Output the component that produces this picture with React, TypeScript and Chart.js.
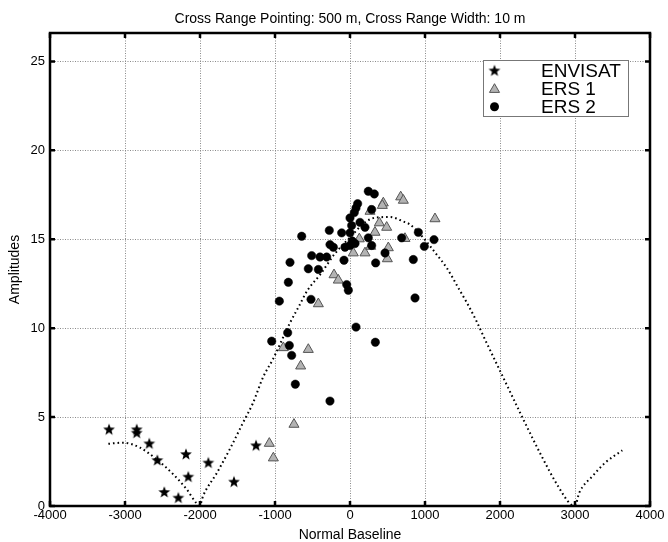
import React, { useEffect, useRef } from "react";
import { Chart, registerables } from "chart.js";

Chart.register(...registerables);

const titleText = "Cross Range Pointing: 500 m, Cross Range Width: 10 m";
const xAxisTitle = "Normal Baseline";
const yAxisTitle = "Amplitudes";
const xTicks = [-4000, -3000, -2000, -1000, 0, 1000, 2000, 3000, 4000];
const yTicks = [0, 5, 10, 15, 20, 25];
const legendLabels = ["ENVISAT", "ERS 1", "ERS 2"];

const envisatX = [-3213, -2844, -2844, -2676, -2569, -2187, -1889, -2156, -2476, -2289, -1547, -1253];
const envisatY = [4.31, 4.31, 4.12, 3.52, 2.58, 2.92, 2.44, 1.65, 0.79, 0.47, 1.37, 3.41];

const ers1X = [-1076, -1022, -747, -889, -556, -658, -422, -213, -156, 44, 200, 124, 276, 333, 267, 391, 489, 511, 498, 444, 431, 676, 711, 733, 1133];
const ers1Y = [3.52, 2.7, 4.59, 8.9, 8.8, 7.87, 11.37, 13.0, 12.7, 14.23, 14.23, 15.02, 14.6, 15.39, 16.57, 15.92, 15.67, 14.52, 13.9, 17.04, 16.9, 17.38, 17.19, 15.04, 16.15];

const ers2X = [244, 324, 102, 80, 57, 289, 0, 133, 22, 200, -276, -644, -111, 0, 244, 689, 911, 1120, 991, -267, -222, -67, 0, 67, 289, -511, -400, -311, -80, 467, 844, 342, -800, -556, -422, -822, -44, -22, -942, -520, 867, 80, -831, -1044, -809, -778, 338, -729, -267, 30];
const ers2Y = [17.7, 17.55, 17.0, 16.76, 16.5, 16.67, 16.2, 15.95, 15.77, 15.67, 15.5, 15.17, 15.36, 15.36, 15.08, 15.08, 15.39, 14.98, 14.6, 14.7, 14.55, 14.55, 14.65, 14.76, 14.65, 14.08, 14.0, 14.0, 13.82, 14.23, 13.86, 13.67, 13.7, 13.34, 13.3, 12.58, 12.45, 12.13, 11.52, 11.62, 11.7, 10.06, 9.74, 9.27, 9.03, 8.47, 9.21, 6.85, 5.9, 14.9];

const curveX = [-3222, -3022, -2800, -2578, -2356, -2178, -2053, -2005, -1956, -1778, -1600, -1422, -1298, -1156, -1022, -911, -800, -676, -569, -400, -200, 0, 200, 356, 533, 711, 800, 978, 1156, 1289, 1444, 1564, 1680, 1787, 2013, 2311, 2543, 2773, 2943, 3000, 3057, 3236, 3404, 3631];
const curveY = [3.5, 3.56, 3.28, 2.62, 1.78, 0.94, 0.19, 0.02, 0.6, 1.84, 3.22, 4.72, 5.75, 7.27, 8.3, 9.31, 10.3, 11.27, 12.12, 13.0, 14.2, 15.1, 15.95, 16.23, 16.25, 16.0, 15.83, 15.08, 14.14, 13.4, 12.27, 11.39, 10.45, 9.48, 7.49, 4.87, 2.9, 1.12, 0.1, 0.02, 0.75, 1.69, 2.44, 3.13];

const FONT = '"Liberation Sans", Arial, Helvetica, sans-serif';

function makeStar(): HTMLCanvasElement {
  const c = document.createElement("canvas");
  c.width = 14;
  c.height = 14;
  const ctx = c.getContext("2d")!;
  const cx = 7, cy = 7.4, R = 6.2, r = 2.6;
  ctx.beginPath();
  for (let i = 0; i < 10; i++) {
    const ang = -Math.PI / 2 + (i * Math.PI) / 5;
    const rad = i % 2 === 0 ? R : r;
    const px = cx + rad * Math.cos(ang);
    const py = cy + rad * Math.sin(ang);
    if (i === 0) ctx.moveTo(px, py);
    else ctx.lineTo(px, py);
  }
  ctx.closePath();
  ctx.fillStyle = "#000";
  ctx.fill();
  return c;
}

const zip = (xs: number[], ys: number[]) => xs.map((x, i) => ({ x, y: ys[i] }));

export default function App() {
  const ref = useRef<HTMLCanvasElement>(null);
  useEffect(() => {
    document.body.style.margin = "0";
    const star = makeStar();

    const framePlugin = {
      id: "framePlugin",
      afterDatasetsDraw(chart: any) {
        const ctx = chart.ctx;
        const { left, right, top, bottom } = chart.chartArea;
        const xs = chart.scales.x;
        const ys = chart.scales.y;
        ctx.save();
        // frame
        ctx.strokeStyle = "#000";
        ctx.lineWidth = 2.5;
        ctx.setLineDash([]);
        ctx.strokeRect(left, top, right - left, bottom - top);
        // inward ticks
        ctx.lineWidth = 2.5;
        ctx.beginPath();
        xTicks.forEach((v) => {
          const px = xs.getPixelForValue(v);
          ctx.moveTo(px, bottom);
          ctx.lineTo(px, bottom - 5);
          ctx.moveTo(px, top);
          ctx.lineTo(px, top + 5);
        });
        yTicks.forEach((v) => {
          const py = ys.getPixelForValue(v);
          ctx.moveTo(left, py);
          ctx.lineTo(left + 5, py);
          ctx.moveTo(right, py);
          ctx.lineTo(right - 5, py);
        });
        ctx.stroke();

        // title
        ctx.fillStyle = "#000";
        ctx.font = `14px ${FONT}`;
        ctx.textAlign = "center";
        ctx.textBaseline = "middle";
        ctx.fillText(titleText, (left + right) / 2, 19.5);

        // legend
        const lx = 483, ly = 60, lw = 145, lh = 56;
        ctx.fillStyle = "#fff";
        ctx.fillRect(lx, ly, lw, lh);
        ctx.strokeStyle = "#777";
        ctx.lineWidth = 1;
        ctx.strokeRect(lx + 0.5, ly + 0.5, lw, lh);
        const rows = [70.5, 88.5, 106.7];
        const mx = 494.5;
        // star
        ctx.drawImage(star, mx - 7, rows[0] - 7);
        // triangle
        ctx.beginPath();
        const tr = 5.8;
        for (let i = 0; i < 3; i++) {
          const ang = -Math.PI / 2 + (i * 2 * Math.PI) / 3;
          const px = mx + tr * Math.cos(ang);
          const py = rows[1] + 1 + tr * Math.sin(ang);
          if (i === 0) ctx.moveTo(px, py);
          else ctx.lineTo(px, py);
        }
        ctx.closePath();
        ctx.fillStyle = "#b3b3b3";
        ctx.fill();
        ctx.strokeStyle = "#555";
        ctx.stroke();
        // circle
        ctx.beginPath();
        ctx.arc(mx, rows[2], 4.5, 0, Math.PI * 2);
        ctx.fillStyle = "#000";
        ctx.fill();
        // texts
        ctx.fillStyle = "#000";
        ctx.font = `19px ${FONT}`;
        ctx.textAlign = "left";
        ctx.textBaseline = "middle";
        legendLabels.forEach((t, i) => ctx.fillText(t, 541, rows[i] + 1));
        ctx.restore();
      },
    };

    const chart = new Chart(ref.current!, {
      type: "scatter",
      data: {
        datasets: [
          {
            label: legendLabels[2],
            data: zip(ers2X, ers2Y),
            pointStyle: "circle",
            pointRadius: 4.2,
            backgroundColor: "#000",
            borderColor: "#000",
            borderWidth: 0.5,
            order: 0,
          },
          {
            label: legendLabels[1],
            data: zip(ers1X, ers1Y),
            pointStyle: "triangle",
            pointRadius: 5.8,
            backgroundColor: "#b3b3b3",
            borderColor: "#555",
            borderWidth: 1,
            order: 1,
          },
          {
            label: legendLabels[0],
            data: zip(envisatX, envisatY),
            pointStyle: star as any,
            pointRadius: 7,
            order: 2,
          },
          {
            label: "model",
            data: zip(curveX, curveY),
            showLine: true,
            pointRadius: 0,
            borderColor: "#000",
            borderWidth: 2,
            borderDash: [1.6, 3],
            cubicInterpolationMode: "monotone",
            order: 3,
          } as any,
        ],
      },
      options: {
        responsive: false,
        animation: false,
        events: [],
        layout: { padding: { top: 33, right: 18, left: 0, bottom: 0 } },
        plugins: {
          legend: { display: false },
          tooltip: { enabled: false },
          title: { display: false },
        },
        scales: {
          x: {
            type: "linear",
            min: -4000,
            max: 4000,
            afterBuildTicks: (s: any) => {
              s.ticks = xTicks.map((v) => ({ value: v }));
            },
            afterFit: (s: any) => {
              s.height = 36;
            },
            grid: { color: "#8a8a8a", lineWidth: 1, drawTicks: false },
            border: { display: false, dash: [1, 1.5] },
            ticks: {
              padding: 2,
              color: "#000",
              font: { family: FONT, size: 13 },
              maxRotation: 0,
              autoSkip: false,
              callback: (v: any) => String(v),
            },
            title: {
              display: true,
              text: xAxisTitle,
              color: "#000",
              font: { family: FONT, size: 14, lineHeight: 1 },
              padding: { top: 0, bottom: 0 },
            },
          },
          y: {
            type: "linear",
            min: 0,
            max: 26.6,
            afterBuildTicks: (s: any) => {
              s.ticks = yTicks.map((v) => ({ value: v }));
            },
            afterFit: (s: any) => {
              s.width = 50;
            },
            grid: { color: "#8a8a8a", lineWidth: 1, drawTicks: false },
            border: { display: false, dash: [1, 1.5] },
            ticks: {
              padding: 5,
              color: "#000",
              font: { family: FONT, size: 13 },
              autoSkip: false,
              callback: (v: any) => String(v),
            },
            title: {
              display: true,
              text: yAxisTitle,
              color: "#000",
              font: { family: FONT, size: 14, lineHeight: 1.2 },
              padding: { top: 6.6, bottom: 0 },
            },
          },
        },
      },
      plugins: [framePlugin],
    });
    return () => chart.destroy();
  }, []);
  return <canvas ref={ref} width={668} height={542} style={{ display: "block", width: 668, height: 542 }} />;
}
